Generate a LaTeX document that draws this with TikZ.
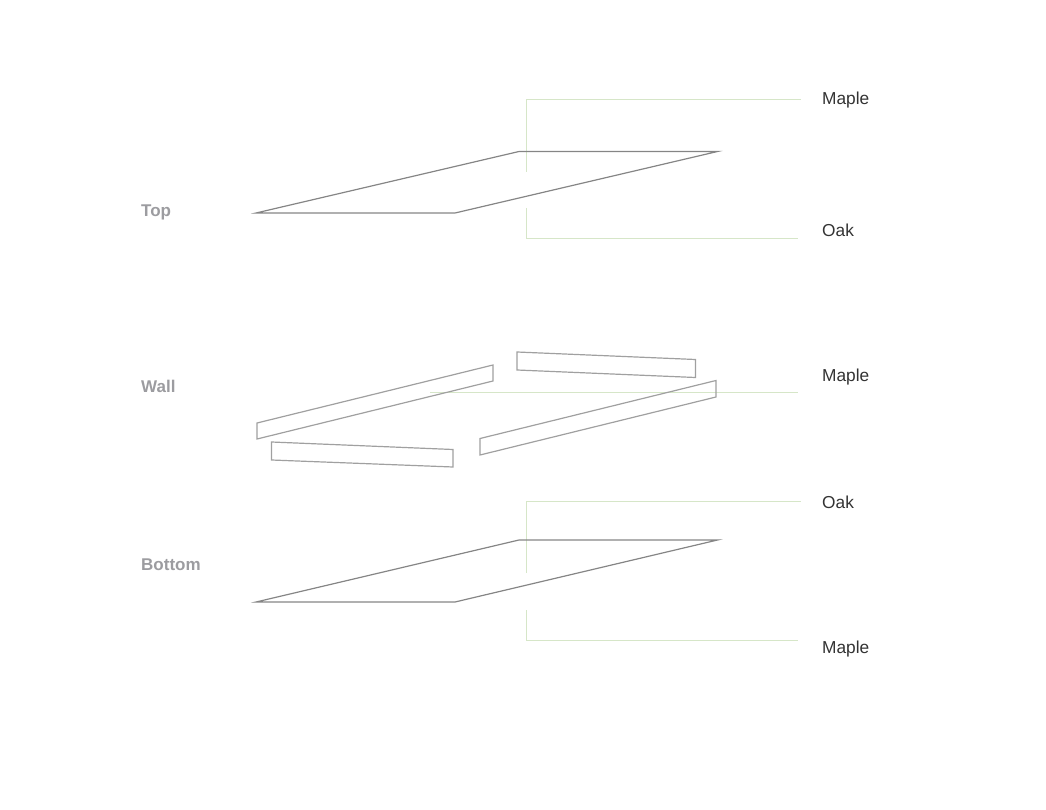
\documentclass[tikz,border=0pt]{standalone}
\usepackage{fontspec}
\setmainfont{Liberation Sans}
\definecolor{plate}{HTML}{858585}
\definecolor{wallc}{HTML}{A0A0A0}
\definecolor{leader}{HTML}{D6E6C8}
\definecolor{head}{HTML}{9C9CA0}
\definecolor{txt}{HTML}{333333}
\tikzset{
  plateline/.style={draw=plate,line width=1.2pt,line join=miter},
  wallline/.style={draw=wallc,line width=1.2pt,line join=miter},
  leaderline/.style={draw=leader,line width=1pt},
  material/.style={anchor=west,inner sep=0pt,text=txt,font=\fontsize{17.3}{20}\selectfont},
  layerlabel/.style={anchor=west,inner sep=0pt,text=head,font=\fontsize{17}{20}\selectfont\bfseries}
}
\begin{document}
\begin{tikzpicture}[x=1pt,y=-1pt]
\useasboundingbox (0,0) rectangle (1046,810);
% labels
\node[layerlabel] (top) at (141,212) {Top};
\node[layerlabel] (wall) at (141,386) {Wall};
\node[layerlabel] (bottom) at (141,565) {Bottom};
\node[material] (m1) at (822,100) {Maple};
\node[material] (o1) at (822,230) {Oak};
\node[material] (m2) at (822,377) {Maple};
\node[material] (o2) at (822,502) {Oak};
\node[material] (m3) at (822,649) {Maple};
% leader ends
\coordinate (m1e) at (801,99.5);
\coordinate (m1k) at (526.5,99.5);
\coordinate (m1s) at (526.5,172);
\coordinate (o1e) at (798,238.5);
\coordinate (o1k) at (526.5,238.5);
\coordinate (o1s) at (526.5,208);
\coordinate (m2s) at (430,392.5);
\coordinate (m2e) at (798,392.5);
\coordinate (o2e) at (801,501.5);
\coordinate (o2k) at (526.5,501.5);
\coordinate (o2s) at (526.5,573);
\coordinate (m3e) at (798,640.5);
\coordinate (m3k) at (526.5,640.5);
\coordinate (m3s) at (526.5,610);
\draw[leaderline] (m1s) -- (m1k) -- (m1e);
\draw[leaderline] (o1s) -- (o1k) -- (o1e);
\draw[leaderline] (m2s) -- (m2e);
\draw[leaderline] (o2s) -- (o2k) -- (o2e);
\draw[leaderline] (m3s) -- (m3k) -- (m3e);
% plates
\draw[plateline] (256,213) -- (455,213) -- (717.5,151.5) -- (519,151.5) -- cycle;
\draw[plateline] (256,602) -- (455,602) -- (717.5,540) -- (519,540) -- cycle;
% walls
\draw[wallline] (257,423) -- (493,365) -- (493,381) -- (257,439) -- cycle;
\draw[wallline] (517,352) -- (695.5,359.5) -- (695.5,377.5) -- (517,370) -- cycle;
\draw[wallline] (480,438.5) -- (716,380.5) -- (716,397) -- (480,455) -- cycle;
\draw[wallline] (271.5,442) -- (453,449.5) -- (453,467) -- (271.5,460) -- cycle;
\end{tikzpicture}
\end{document}
